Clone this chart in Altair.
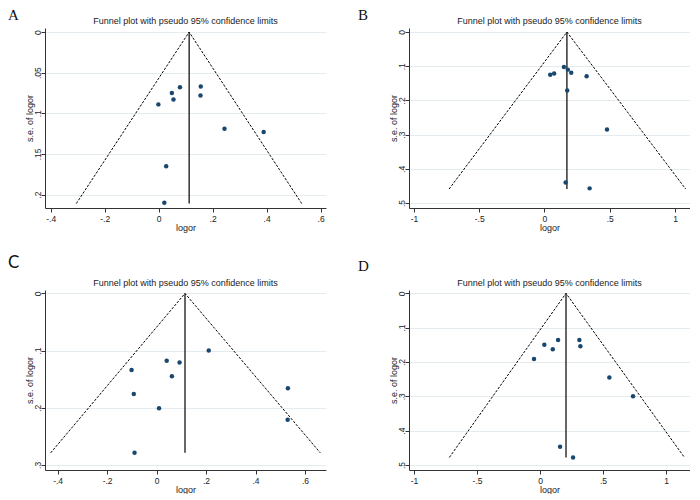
import altair as alt
import pandas as pd

TITLE = "Funnel plot with pseudo 95% confidence limits"

# Panel A
A_X = [0.079, 0.156, 0.049, 0.155, 0.055, -0.001, 0.244, 0.389, 0.028, 0.021]
A_SE = [0.068, 0.067, 0.075, 0.078, 0.083, 0.089, 0.119, 0.123, 0.165, 0.210]
A_FUNNEL_X = [-0.305, 0.113, 0.530]
A_FUNNEL_SE = [0.211, 0.0, 0.211]
A_XTICKS = [-0.4, -0.2, 0, 0.2, 0.4, 0.6]
A_YTICKS = [0, 0.05, 0.1, 0.15, 0.2]

# Panel B
B_X = [0.149, 0.179, 0.205, 0.074, 0.044, 0.323, 0.174, 0.479, 0.162, 0.346]
B_SE = [0.102, 0.110, 0.119, 0.121, 0.125, 0.129, 0.171, 0.285, 0.440, 0.457]
B_FUNNEL_X = [-0.731, 0.172, 1.082]
B_FUNNEL_SE = [0.459, 0.0, 0.459]
B_XTICKS = [-1, -0.5, 0, 0.5, 1]
B_YTICKS = [0, 0.1, 0.2, 0.3, 0.4, 0.5]

# Panel C
C_X = [0.211, 0.041, 0.093, -0.101, 0.062, 0.531, -0.092, 0.010, 0.530, -0.089]
C_SE = [0.100, 0.118, 0.121, 0.134, 0.145, 0.166, 0.176, 0.201, 0.221, 0.279]
C_FUNNEL_X = [-0.428, 0.115, 0.662]
C_FUNNEL_SE = [0.279, 0.0, 0.279]
C_XTICKS = [-0.4, -0.2, 0, 0.2, 0.4, 0.6]
C_YTICKS = [0, 0.1, 0.2, 0.3]

# Panel D
D_X = [0.143, 0.312, 0.034, 0.320, 0.101, -0.048, 0.550, 0.738, 0.159, 0.262]
D_SE = [0.136, 0.136, 0.150, 0.154, 0.163, 0.191, 0.245, 0.300, 0.447, 0.478]
D_FUNNEL_X = [-0.720, 0.206, 1.146]
D_FUNNEL_SE = [0.478, 0.0, 0.478]
D_XTICKS = [-1, -0.5, 0, 0.5, 1]
D_YTICKS = [0, 0.1, 0.2, 0.3, 0.4, 0.5]

W, H = 281, 180
FONT = "Liberation Sans"
LABEL_EXPR = ("datum.value == 0 ? '0' : (datum.value < 0 ? '-' : '') + "
              "substring(toString(abs(datum.value)), abs(datum.value) < 1 ? 1 : 0)")


def panel(xs, ses, fx, fse, xdom, ydom, xticks, yticks, letter, lfont, lsize, lx, ly):
    xscale = alt.Scale(domain=xdom, nice=False, zero=False)
    yscale = alt.Scale(domain=ydom, nice=False, zero=False, reverse=True)
    xaxis = alt.Axis(values=xticks, labelExpr=LABEL_EXPR, tickSize=4, labelPadding=2,
                     labelFont=FONT, labelFontSize=8.5, labelColor="#222",
                     domainColor="#333", tickColor="#333", grid=False,
                     title="logor", titleFont=FONT, titleFontSize=9, titleFontWeight="normal",
                     titleColor="#222", titleX=W / 2, titleY=19, titleBaseline="middle",
                     titleAlign="center", labelFlush=False)
    yaxis = alt.Axis(values=yticks, labelExpr=LABEL_EXPR, tickSize=4, labelPadding=1,
                     labelAngle=270, labelAlign="center", labelBaseline="alphabetic",
                     labelFont=FONT, labelFontSize=8.5, labelColor="#222",
                     domainColor="#333", tickColor="#333", grid=True,
                     gridColor="#e4ecef", gridWidth=1,
                     title="s.e. of logor", titleFont=FONT, titleFontSize=9,
                     titleFontWeight="normal", titleColor="#222", titleAngle=270,
                     titleX=-16, titleY=H / 2, titleBaseline="middle", titleAlign="center",
                     labelFlush=False)

    pts = pd.DataFrame({"x": xs, "se": ses})
    fun = pd.DataFrame({"x": fx, "se": fse, "i": [0, 1, 2]})
    vert = pd.DataFrame({"x": [fx[1]], "se": [fse[1]], "se2": [fse[0]]})

    base_x = alt.X("x:Q", scale=xscale, axis=xaxis)
    base_y = alt.Y("se:Q", scale=yscale, axis=yaxis)

    funnel = alt.Chart(fun).mark_line(color="black", strokeWidth=1, strokeDash=[2.5, 1.5]).encode(
        x=base_x, y=base_y, order=alt.Order("i:Q"))
    rule = alt.Chart(vert).mark_rule(color="black", strokeWidth=1.2).encode(
        x=base_x, y=base_y, y2="se2:Q")
    dots = alt.Chart(pts).mark_circle(size=20, color="#1a476f", opacity=1).encode(
        x=base_x, y=base_y)
    lab = alt.Chart(pd.DataFrame({"t": [letter]})).mark_text(
        font=lfont, fontSize=lsize, align="left", baseline="top", color="#111").encode(
        x=alt.value(lx), y=alt.value(ly), text="t:N")
    ttl = alt.Chart(pd.DataFrame({"t": [TITLE]})).mark_text(
        font=FONT, fontSize=9, align="center", baseline="alphabetic", color="#222").encode(
        x=alt.value(W / 2), y=alt.value(-4), text="t:N")

    return alt.layer(funnel, rule, dots, lab, ttl).properties(width=W, height=H)


pA = panel(A_X, A_SE, A_FUNNEL_X, A_FUNNEL_SE, [-0.421, 0.620], [-0.005, 0.2165],
           A_XTICKS, A_YTICKS, "A", "Liberation Serif", 15, -37, -20)
pB = panel(B_X, B_SE, B_FUNNEL_X, B_FUNNEL_SE, [-1.038, 1.115], [-0.0117, 0.5144],
           B_XTICKS, B_YTICKS, "B", "Liberation Serif", 15, -51, -20)
pC = panel(C_X, C_SE, C_FUNNEL_X, C_FUNNEL_SE, [-0.451, 0.685], [-0.006, 0.309],
           C_XTICKS, C_YTICKS, "C", "Lato", 17, -37, -35)
pD = panel(D_X, D_SE, D_FUNNEL_X, D_FUNNEL_SE, [-1.04, 1.19], [-0.0097, 0.5146],
           D_XTICKS, D_YTICKS, "D", "Liberation Serif", 15, -51, -31)

chart = alt.concat(pA, pB, pC, pD, columns=2, spacing={"row": 82, "column": 83},
                   bounds="flush").properties(padding=0).configure_view(stroke=None)

chart.save("out.html", embed_options={"renderer": "svg", "actions": False})
